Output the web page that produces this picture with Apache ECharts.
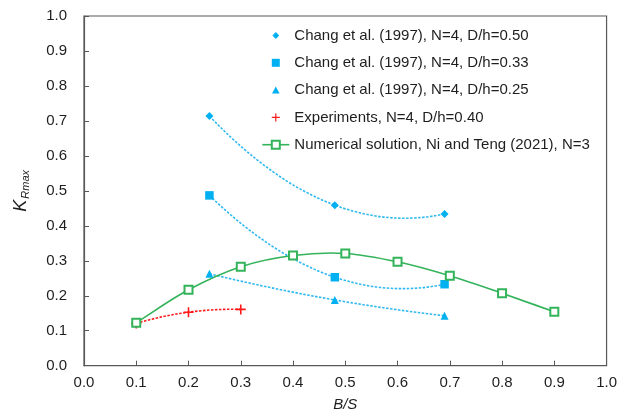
<!DOCTYPE html>
<html>
<head>
<meta charset="utf-8">
<script src="https://cdn.jsdelivr.net/npm/echarts@6/dist/echarts.min.js"></script>
<style>
  html, body { margin: 0; padding: 0; background: #ffffff; }
  #chart { width: 620px; height: 418px; }
</style>
</head>
<body>
<div id="chart"></div>
<script>
// Tick labels for both axes (B/S and K_Rmax share the 0.0 - 1.0 range)
var tickValues = [0.0, 0.1, 0.2, 0.3, 0.4, 0.5, 0.6, 0.7, 0.8, 0.9, 1.0];

// Chang et al. (1997), N=4 — measured at three spacing ratios
var bsChang = [0.24, 0.48, 0.69];
var krChang050 = [0.714, 0.459, 0.434];   // D/h = 0.50
var krChang033 = [0.487, 0.253, 0.233];   // D/h = 0.33
var krChang025 = [0.263, 0.188, 0.143];   // D/h = 0.25

// Experiments, N=4, D/h=0.40
var bsExp = [0.1, 0.2, 0.3];
var krExp = [0.121, 0.153, 0.161];

// Numerical solution, Ni and Teng (2021), N=3
var bsNum = [0.1, 0.2, 0.3, 0.4, 0.5, 0.6, 0.7, 0.8, 0.9];
var krNum = [0.123, 0.217, 0.283, 0.315, 0.321, 0.297, 0.257, 0.207, 0.154];

var seriesNames = [
  'Chang et al. (1997), N=4, D/h=0.50',
  'Chang et al. (1997), N=4, D/h=0.33',
  'Chang et al. (1997), N=4, D/h=0.25',
  'Experiments, N=4, D/h=0.40',
  'Numerical solution, Ni and Teng (2021), N=3'
];

function pairs(xs, ys) {
  return xs.map(function (x, i) { return [x, ys[i]]; });
}

var BLUE = '#00b0f0';
var BLUE_LINE = '#2fb9f0';
var RED = '#ff1a1a';
var GREEN = '#33b35a';
var AXIS = '#595959';
var TEXT = '#1e1e1e';

// filled plus sign used for the experimental points
var plusPath = 'path://M4.2,0H5.8V4.2H10V5.8H5.8V10H4.2V5.8H0V4.2H4.2Z';

// legend icons, padded inside a square box so they keep their relative sizes
var legendDiamond = 'path://M0,0M5,1.6L8.4,5L5,8.4L1.6,5ZM10,10';
var legendRect = 'path://M0,0M1,1H9V9H1ZM10,10';
var legendTriangle = 'path://M0,0M5,1.4L8.8,8.4H1.2ZM10,10';
var legendPlus = 'path://M0,0M4.4,1H5.6V4.4H9V5.6H5.6V9H4.4V5.6H1V4.4H4.4ZM10,10';

// ---- curve paths through the data points (pixel space, via api.coord) ----

// second-order curve through three points, written as two quadratic Bezier pieces
function parabolaPath(p) {
  var xa = p[0][0], xb = p[1][0], xc = p[2][0];
  var ya = p[0][1], yb = p[1][1], yc = p[2][1];
  function slope(x) {
    return ya * (2 * x - xb - xc) / ((xa - xb) * (xa - xc)) +
           yb * (2 * x - xa - xc) / ((xb - xa) * (xb - xc)) +
           yc * (2 * x - xa - xb) / ((xc - xa) * (xc - xb));
  }
  var d = 'M' + xa + ',' + ya;
  for (var i = 0; i < 2; i++) {
    var x0 = p[i][0], y0 = p[i][1], x1 = p[i + 1][0], y1 = p[i + 1][1];
    var cx = (x0 + x1) / 2;
    var cy = y0 + slope(x0) * (x1 - x0) / 2;
    d += ' Q' + cx + ',' + cy + ' ' + x1 + ',' + y1;
  }
  return d;
}

// Catmull-Rom style smooth line through all points, as cubic Bezier pieces
function splinePath(p) {
  var n = p.length;
  var t = [];
  for (var i = 0; i < n; i++) {
    var a = p[Math.max(0, i - 1)], b = p[Math.min(n - 1, i + 1)];
    var k = (i === 0 || i === n - 1) ? 1 : 0.5;
    t.push([(b[0] - a[0]) * k, (b[1] - a[1]) * k]);
  }
  var d = 'M' + p[0][0] + ',' + p[0][1];
  for (var j = 0; j < n - 1; j++) {
    var c1x = p[j][0] + t[j][0] / 3, c1y = p[j][1] + t[j][1] / 3;
    var c2x = p[j + 1][0] - t[j + 1][0] / 3, c2y = p[j + 1][1] - t[j + 1][1] / 3;
    d += ' C' + c1x + ',' + c1y + ' ' + c2x + ',' + c2y + ' ' + p[j + 1][0] + ',' + p[j + 1][1];
  }
  return d;
}

function curveSeries(xs, ys, kind, lineStyle, z) {
  return {
    type: 'custom',
    silent: true,
    z: z,
    data: [0],
    renderItem: function (params, api) {
      var pts = xs.map(function (x, i) { return api.coord([x, ys[i]]); });
      var d = kind === 'parabola' ? parabolaPath(pts) : splinePath(pts);
      return {
        type: 'path',
        shape: { pathData: d },
        style: {
          fill: null,
          stroke: lineStyle.color,
          lineWidth: lineStyle.width,
          lineDash: lineStyle.dash || null
        }
      };
    }
  };
}

// marker-only series (the curve is drawn by the custom series below)
function markerSeries(name, xs, ys, symbol, size, itemStyle, z) {
  return {
    name: name, type: 'line',
    data: pairs(xs, ys),
    symbol: symbol, symbolSize: size, showSymbol: true,
    itemStyle: itemStyle,
    lineStyle: { width: 0, opacity: 0 },
    z: z
  };
}

var dotted = [2.5, 1.5];

var chart = echarts.init(document.getElementById('chart'), null, { renderer: 'canvas' });

var option = {
  animation: false,
  backgroundColor: '#ffffff',
  textStyle: { fontFamily: 'Liberation Sans, Arial, sans-serif' },
  grid: {
    left: 84, right: 8.5, top: 16, bottom: 52.3,
    show: true, borderColor: AXIS, borderWidth: 1.2, backgroundColor: 'transparent'
  },
  legend: {
    orient: 'vertical',
    left: 261.5,
    top: 28,
    padding: 0,
    itemWidth: 27,
    itemHeight: 10,
    itemGap: 12.3,
    selectedMode: false,
    textStyle: { fontSize: 15, color: TEXT, fontFamily: 'Liberation Sans, Arial, sans-serif' },
    data: [
      { name: seriesNames[0], icon: legendDiamond },
      { name: seriesNames[1], icon: legendRect },
      { name: seriesNames[2], icon: legendTriangle },
      { name: seriesNames[3], icon: legendPlus },
      { name: seriesNames[4], lineStyle: { color: GREEN, width: 1.6, opacity: 1, type: 'solid' } }
    ]
  },
  xAxis: {
    type: 'value',
    min: 0, max: 1, interval: 0.1,
    name: 'B/S',
    nameLocation: 'middle',
    nameGap: 32,
    nameTextStyle: { fontSize: 15, fontStyle: 'italic', color: TEXT },
    axisLine: { show: true, lineStyle: { color: AXIS, width: 1.2 } },
    axisTick: { show: true, inside: true, length: 5, lineStyle: { color: AXIS, width: 1 } },
    axisLabel: {
      margin: 10, fontSize: 15, color: TEXT,
      formatter: function (v) { return v.toFixed(1); },
      customValues: tickValues
    },
    splitLine: { show: false }
  },
  yAxis: {
    type: 'value',
    min: 0, max: 1, interval: 0.1,
    name: '{k|K}{s|Rmax}',
    nameLocation: 'middle',
    nameGap: 52,
    nameRotate: 90,
    nameTextStyle: {
      color: TEXT,
      rich: {
        k: { fontSize: 18, fontStyle: 'italic', color: TEXT, lineHeight: 22, verticalAlign: 'middle' },
        s: { fontSize: 11, fontStyle: 'italic', color: TEXT, lineHeight: 22, verticalAlign: 'bottom', padding: [0, 0, 1, 1] }
      }
    },
    axisLine: { show: true, lineStyle: { color: AXIS, width: 1.2 } },
    axisTick: { show: true, inside: true, length: 5, lineStyle: { color: AXIS, width: 1 } },
    axisLabel: {
      margin: 17, fontSize: 15, color: TEXT,
      formatter: function (v) { return v.toFixed(1); },
      customValues: tickValues
    },
    splitLine: { show: false }
  },
  series: [
    curveSeries(bsChang, krChang050, 'parabola', { color: BLUE_LINE, width: 1.6, dash: dotted }, 1),
    curveSeries(bsChang, krChang033, 'parabola', { color: BLUE_LINE, width: 1.6, dash: dotted }, 1),
    curveSeries(bsChang, krChang025, 'parabola', { color: BLUE_LINE, width: 1.6, dash: dotted }, 1),
    curveSeries(bsExp, krExp, 'parabola', { color: RED, width: 1.6, dash: dotted }, 1),
    curveSeries(bsNum, krNum, 'spline', { color: GREEN, width: 1.6 }, 2),

    markerSeries(seriesNames[0], bsChang, krChang050, 'diamond', 8,
      { color: BLUE, borderWidth: 0 }, 5),
    markerSeries(seriesNames[1], bsChang, krChang033, 'rect', 8.5,
      { color: BLUE, borderWidth: 0 }, 5),
    markerSeries(seriesNames[2], bsChang, krChang025, 'triangle', 8,
      { color: BLUE, borderWidth: 0 }, 5),
    markerSeries(seriesNames[3], bsExp, krExp, plusPath, 10,
      { color: RED, borderWidth: 0 }, 6),
    markerSeries(seriesNames[4], bsNum, krNum, 'emptyRect', 8,
      { color: GREEN, borderColor: GREEN, borderWidth: 1.5 }, 7)
  ]
};

chart.setOption(option);
</script>
</body>
</html>
